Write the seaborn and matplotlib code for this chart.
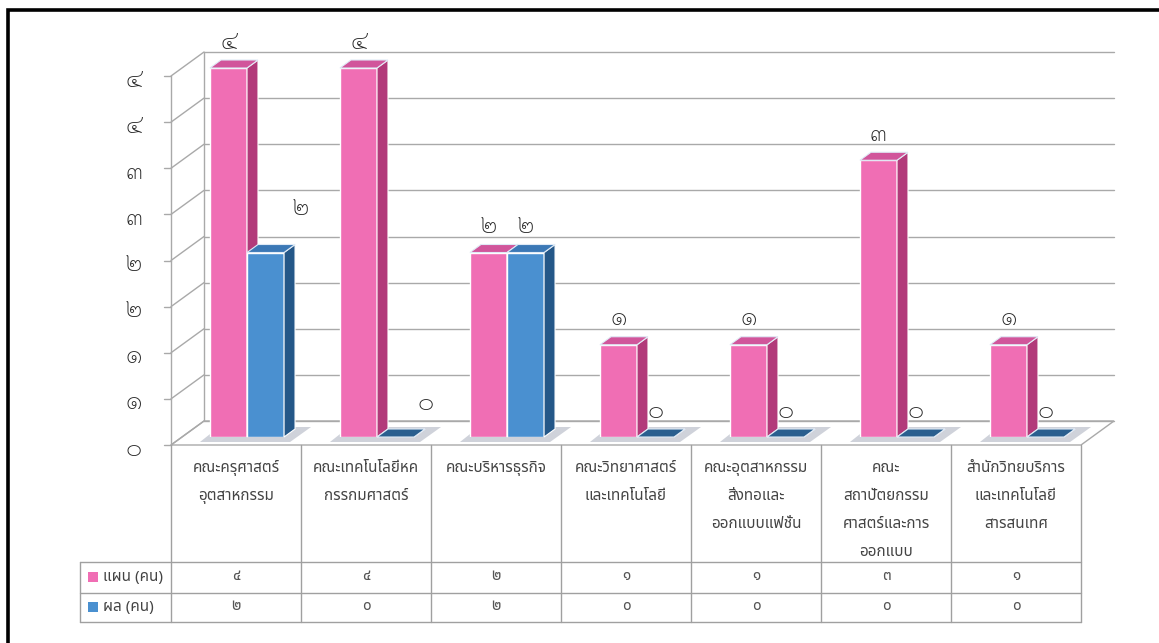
import numpy as np
import pandas as pd
import seaborn as sns
import matplotlib
matplotlib.use("Agg")
import matplotlib.pyplot as plt
from matplotlib.patches import Polygon, Rectangle

# ---- data -------------------------------------------------------------
categories = [
    "คณะครุศาสตร์\nอุตสาหกรรม",
    "คณะเทคโนโลยีหค\nกรรกมศาสตร์",
    "คณะบริหารธุรกิจ",
    "คณะวิทยาศาสตร์\nและเทคโนโลยี",
    "คณะอุตสาหกรรม\nสิ่งทอและ\nออกแบบแฟชั่น",
    "คณะ\nสถาปัตยกรรม\nศาสตร์และการ\nออกแบบ",
    "สำนักวิทยบริการ\nและเทคโนโลยี\nสารสนเทศ",
]
series_names = ["แผน (คน)", "ผล (คน)"]
plan_values = [4, 4, 2, 1, 1, 3, 1]
result_values = [2, 0, 2, 0, 0, 0, 0]
ytick_values = [0, 0.5, 1, 1.5, 2, 2.5, 3, 3.5, 4]
ytick_labels = ["๐", "๑", "๑", "๒", "๒", "๓", "๓", "๔", "๔"]
thai_digits = "๐๑๒๓๔๕๖๗๘๙"

# ---- style --------------------------------------------------------------
sns.set_theme(style="white")
plt.rcParams["font.family"] = ["Noto Sans Thai", "DejaVu Sans"]
NUM_FONT = ["Sarabun", "Noto Sans Thai", "DejaVu Sans"]

PINK = {"front": "#f06eb4", "side": "#b23a7a", "top": "#d1559b"}
BLUE = {"front": "#4a90d0", "side": "#245788", "top": "#3b78b6"}
GRID = "#a9a9a9"
TABLE = "#a0a0a0"
TEXT = "#444444"


def thai(n):
    return "".join(thai_digits[int(c)] for c in str(int(n)))


df = pd.DataFrame({
    "หน่วยงาน": [c.replace("\n", "") for c in categories] * 2,
    "ชุด": [series_names[0]] * len(categories) + [series_names[1]] * len(categories),
    "จำนวน": plan_values + result_values,
})

W, H = 1159, 643
fig = plt.figure(figsize=(W / 100, H / 100), dpi=100)
fig.patch.set_facecolor("white")

# plot plane: one category = 130 px wide, one unit = 92.25 px tall
PX, PY = 130.0, 92.25
X_LEFT, Y_BASE, Y_MAX = 182, 437, 4.4
ax = fig.add_axes([X_LEFT / W, 1 - Y_BASE / H, 7 * PX / W, Y_MAX * PY / H])


def dx(p):
    return p / PX


def dy(p):
    return p / PY


def xpix(p):
    return (p - X_LEFT) / PX - 0.5


def ypix(p):
    return (Y_BASE - p) / PY


sns.barplot(data=df, x="หน่วยงาน", y="จำนวน", hue="ชุด",
            palette=[PINK["front"], BLUE["front"]], saturation=1,
            width=0.57, gap=0, errorbar=None, legend=False, ax=ax)
ax.set_xlim(-0.5, 6.5)
ax.set_ylim(0, Y_MAX)
ax.axis("off")

# depth of one slice (bar front -> bar back) and plane offsets
DX, DY = dx(11), dy(8)
FX, FY = -DX, -DY            # front plane
BX, BY = 2 * DX, 2 * DY      # back wall

# floor
floor = Polygon([(-0.5 + FX, FY), (6.5 + FX, FY), (6.5 + BX, BY), (-0.5 + BX, BY)],
                closed=True, facecolor="white", edgecolor=GRID, lw=1.0,
                zorder=0.5, clip_on=False)
ax.add_patch(floor)

# back wall gridlines and left side wall
for v in ytick_values:
    ax.plot([-0.5 + BX, 6.5 + BX], [v + BY, v + BY], color=GRID, lw=1.0,
            zorder=1, clip_on=False)
    ax.plot([-0.5 + FX, -0.5 + BX], [v + FY, v + BY], color=GRID, lw=1.0,
            zorder=1, clip_on=False)
    ax.plot([-0.5 + FX - dx(7), -0.5 + FX], [v + FY, v + FY], color=GRID,
            lw=1.0, zorder=1, clip_on=False)
ax.plot([-0.5 + BX, -0.5 + BX], [BY, 4 + BY], color=GRID, lw=1.0, zorder=1,
        clip_on=False)
ax.plot([-0.5 + FX, -0.5 + FX], [FY, 4 + FY], color=GRID, lw=1.0, zorder=1,
        clip_on=False)

for v, lab in zip(ytick_values, ytick_labels):
    ax.text(xpix(134), v + FY - dy(4), lab, ha="center", va="center",
            fontsize=18, fontweight="light", family=NUM_FONT,
            color="#262626", clip_on=False)

# bars: shadows, then front/side/top faces
label_nudge = {(0, 1): (35, 18), (1, 1): (30, 8)}
for si, (cont, col) in enumerate(zip(ax.containers, [PINK, BLUE])):
    z = 3 + si
    for ci, bar in enumerate(cont):
        x0, w, h = bar.get_x(), bar.get_width(), bar.get_height()
        x1 = x0 + w
        shadow = Polygon([(x0 - dx(10), -dy(5)), (x1 + dx(6), -dy(5)),
                          (x1 + DX + dx(16), DY + dy(2)), (x0 + DX - dx(2), DY + dy(2))],
                         closed=True, facecolor="#cfd2da", edgecolor="none",
                         zorder=2, clip_on=False)
        ax.add_patch(shadow)
        bar.set_zorder(z)
        bar.set_edgecolor("white")
        bar.set_linewidth(1.0)
        side = Polygon([(x1, 0), (x1, h), (x1 + DX, h + DY), (x1 + DX, DY)],
                       closed=True, facecolor=col["side"], edgecolor="white",
                       lw=0.8, zorder=z, clip_on=False)
        top_color = col["top"] if h > 0 else "#2a5f8f"
        top = Polygon([(x0, h), (x1, h), (x1 + DX, h + DY), (x0 + DX, h + DY)],
                      closed=True, facecolor=top_color, edgecolor="#dfeaf6",
                      lw=0.8, zorder=z + 0.1, clip_on=False)
        ax.add_patch(side)
        ax.add_patch(top)
        nx, ny = label_nudge.get((ci, si), (0, 0))
        ax.annotate(thai(h), (x0 + w / 2, h), xytext=(nx, 26 + ny),
                    textcoords="offset pixels", ha="center", va="center",
                    fontsize=18, fontweight="light", family=NUM_FONT,
                    color="#262626", annotation_clip=False, zorder=6)

# data table underneath
col_edges = [k - 0.5 + FX for k in range(len(categories) + 1)]
x_leg = xpix(80)
y_top, y_r1, y_r2, y_bot = ypix(445), ypix(562), ypix(593), ypix(622)
for k, xe in enumerate(col_edges):
    ax.plot([xe, xe], [y_bot, y_top], color=TABLE, lw=1.0, clip_on=False, zorder=1)
ax.plot([x_leg, x_leg], [y_bot, y_r1], color=TABLE, lw=1.0, clip_on=False)
for yy in (y_r1, y_r2, y_bot):
    ax.plot([x_leg, col_edges[-1]], [yy, yy], color=TABLE, lw=1.0, clip_on=False)

for i, cat in enumerate(categories):
    xc = i + FX
    for j, line in enumerate(cat.split("\n")):
        ax.text(xc, ypix(468 + 28 * j), line, ha="center", va="center",
                fontsize=11, fontweight="light", color=TEXT, clip_on=False)
    for vals, yrow in ((plan_values, 577), (result_values, 607)):
        ax.text(xc, ypix(yrow), thai(vals[i]), ha="center", va="center",
                fontsize=11, fontweight="light", color="#555555", clip_on=False)

for name, col, yrow in ((series_names[0], PINK["front"], 577),
                        (series_names[1], BLUE["front"], 607)):
    ax.add_patch(Rectangle((xpix(88), ypix(yrow) - dy(5)), dx(10), dy(10),
                           facecolor=col, edgecolor="none", clip_on=False))
    ax.text(xpix(103), ypix(yrow), name, ha="left", va="center", fontsize=11,
            fontweight="light", color=TEXT, clip_on=False)

# outer frame
fig.add_artist(Rectangle((8 / W, -0.2), 1.2, 1 - 10 / H + 0.2,
                         transform=fig.transFigure, fill=False,
                         edgecolor="black", lw=2.6))

fig.savefig("out.png", dpi=100)
